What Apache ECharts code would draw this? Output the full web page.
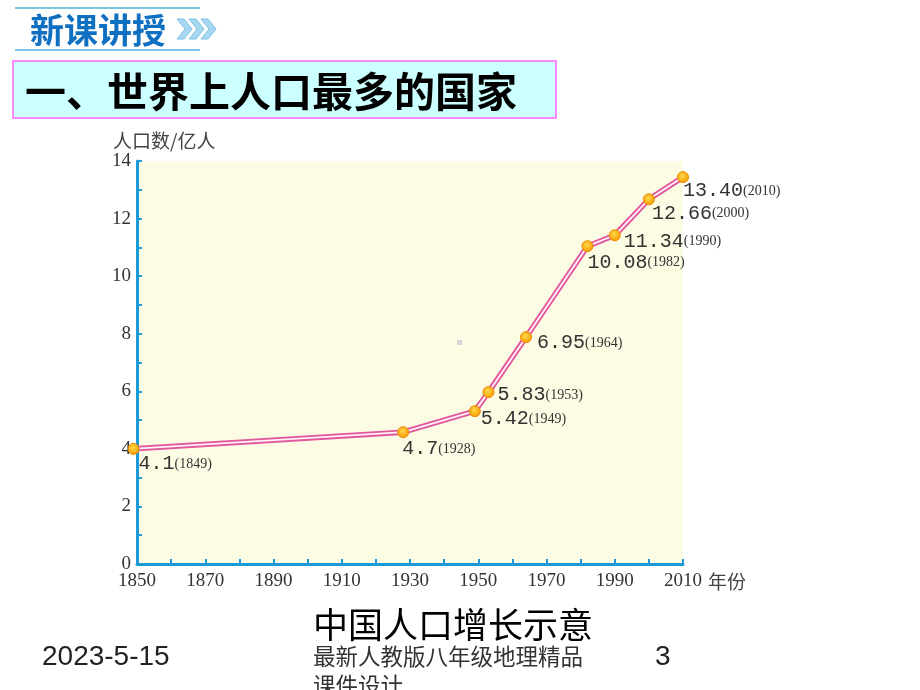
<!DOCTYPE html>
<html><head><meta charset="utf-8">
<script src="https://cdn.jsdelivr.net/npm/echarts@6/dist/echarts.min.js"></script>
<style>html,body{margin:0;padding:0;background:#fff}#c{width:920px;height:690px}</style>
</head><body><div id="c"></div>
<script>
// ---- data ----
var years = [1849, 1928, 1949, 1953, 1964, 1982, 1990, 2000, 2010];
// plotted heights as drawn in the picture (亿人)
var plotted = [4.0, 4.58, 5.31, 5.97, 7.88, 11.04, 11.42, 12.67, 13.44];
// printed labels
var labelValues = ['4.1', '4.7', '5.42', '5.83', '6.95', '10.08', '11.34', '12.66', '13.40'];
var xTicks = [1850, 1870, 1890, 1910, 1930, 1950, 1970, 1990, 2010];
var yTicks = [0, 2, 4, 6, 8, 10, 12, 14];
var yAxisTitle = '人口数/亿人';
var xAxisTitle = '年份';
var chartCaption = '中国人口增长示意';
var sectionTitle = '新课讲授';
var heading = '一、世界上人口最多的国家';

// label layout (pixel offsets from each point)
var labelOffsets = [[5,15],[-1,17],[6,8],[9,3],[11,6],[0,16],[9,6],[3,14],[0,14]];

var chart = echarts.init(document.getElementById('c'), null, {renderer: 'canvas'});
var axisBlue = '#1b9ad8';
var serif = '"Liberation Serif", "DejaVu Serif", serif';

var seriesData = years.map(function (y, i) {
  return {
    value: [y, plotted[i]],
    label: {
      show: true,
      position: 'inside',
      align: 'left',
      verticalAlign: 'middle',
      offset: labelOffsets[i],
      formatter: '{v|' + labelValues[i] + '}{y|(' + years[i] + ')}',
      rich: {
        v: {fontFamily: '"Liberation Mono", monospace', fontSize: 20, color: '#333'},
        y: {fontFamily: serif, fontSize: 14, color: '#333'}
      }
    }
  };
});
var plainData = years.map(function (y, i) { return [y, plotted[i]]; });

var option = {
  animation: false,
  backgroundColor: '#ffffff',
  grid: {left: 137, right: 237, top: 161, bottom: 126, show: true,
         backgroundColor: '#fcfbe3', borderWidth: 0},
  xAxis: {
    type: 'value', min: 1850, max: 2010, interval: 10,
    axisLine: {show: true, lineStyle: {color: axisBlue, width: 3}},
    axisTick: {show: true, inside: true, length: 5, lineStyle: {color: axisBlue, width: 2}},
    axisLabel: {
      margin: 8, fontFamily: serif, fontSize: 19, color: '#333',
      formatter: function (v) { return xTicks.indexOf(v) >= 0 ? String(v) : ''; }
    },
    splitLine: {show: false}
  },
  yAxis: {
    type: 'value', min: 0, max: 14, interval: 1,
    axisLine: {show: true, lineStyle: {color: axisBlue, width: 3}},
    axisTick: {show: true, inside: true, length: 5, lineStyle: {color: axisBlue, width: 2}},
    axisLabel: {
      margin: 6, fontFamily: serif, fontSize: 19, color: '#333',
      formatter: function (v) { return yTicks.indexOf(v) >= 0 ? String(v) : ''; }
    },
    splitLine: {show: false}
  },
  series: [
    {
      type: 'line', data: plainData, clip: false, symbol: 'none', z: 2,
      lineStyle: {color: '#e2579d', width: 5.5}
    },
    {
      type: 'line', data: seriesData, clip: false, z: 3,
      symbol: 'circle', symbolSize: 11,
      lineStyle: {color: '#fff2f8', width: 1.8},
      itemStyle: {
        color: {type: 'radial', x: 0.45, y: 0.4, r: 0.6,
                colorStops: [{offset: 0, color: '#ffd84a'}, {offset: 1, color: '#f59a00'}]},
        borderColor: '#f08a00', borderWidth: 1
      }
    }
  ],
  graphic: [
    // section header
    {type: 'line', shape: {x1: 15, y1: 8, x2: 200, y2: 8}, style: {stroke: '#7ec6e6', lineWidth: 2}},
    {type: 'line', shape: {x1: 15, y1: 50, x2: 200, y2: 50}, style: {stroke: '#7ec6e6', lineWidth: 2}},
    {type: 'text', style: {text: sectionTitle, x: 30, y: 30, verticalAlign: 'middle',
      font: 'bold 34px "Noto Sans CJK SC"', fill: '#0f6fc0'}},
    {type: 'polygon', shape: {points: [[177,19],[184,19],[192,29],[184,39],[177,39],[185,29]]},
      style: {fill: '#a8d8f0', stroke: '#7cc3e8', lineWidth: 1}},
    {type: 'polygon', shape: {points: [[189,19],[196,19],[204,29],[196,39],[189,39],[197,29]]},
      style: {fill: '#a8d8f0', stroke: '#7cc3e8', lineWidth: 1}},
    {type: 'polygon', shape: {points: [[201,19],[208,19],[216,29],[208,39],[201,39],[209,29]]},
      style: {fill: '#a8d8f0', stroke: '#7cc3e8', lineWidth: 1}},
    // heading box
    {type: 'rect', shape: {x: 13, y: 61, width: 543, height: 57},
      style: {fill: '#ccffff', stroke: '#ff66ff', lineWidth: 1.5}},
    {type: 'text', style: {text: heading, x: 25, y: 91, verticalAlign: 'middle',
      font: 'bold 41px "Noto Sans CJK SC"', fill: '#000'}},
    // axis titles
    {type: 'text', style: {text: yAxisTitle, x: 113, y: 141, verticalAlign: 'middle',
      font: '19px "Noto Sans CJK SC"', fill: '#444'}},
    {type: 'text', style: {text: xAxisTitle, x: 708, y: 582, verticalAlign: 'middle',
      font: '19px "Noto Sans CJK SC"', fill: '#444'}},
    // small grey mark in plot
    {type: 'rect', shape: {x: 457, y: 340, width: 5, height: 5}, style: {fill: '#d6d6d6'}},
    // footer
    {type: 'text', style: {text: chartCaption, x: 313, y: 625, verticalAlign: 'middle',
      font: '35px "Noto Sans CJK SC"', fill: '#000'}},
    {type: 'text', style: {text: '2023-5-15', x: 42, y: 657, verticalAlign: 'middle',
      font: '28px "Liberation Sans", Arial', fill: '#222'}},
    {type: 'text', style: {text: '最新人教版八年级地理精品', x: 313, y: 656, verticalAlign: 'middle',
      font: '22.5px "Noto Sans CJK SC"', fill: '#333'}},
    {type: 'text', style: {text: '课件设计', x: 313, y: 685, verticalAlign: 'middle',
      font: '22.5px "Noto Sans CJK SC"', fill: '#333'}},
    {type: 'text', style: {text: '3', x: 655, y: 657, verticalAlign: 'middle',
      font: '28px "Liberation Sans", Arial', fill: '#222'}}
  ]
};
chart.setOption(option);
</script></body></html>
